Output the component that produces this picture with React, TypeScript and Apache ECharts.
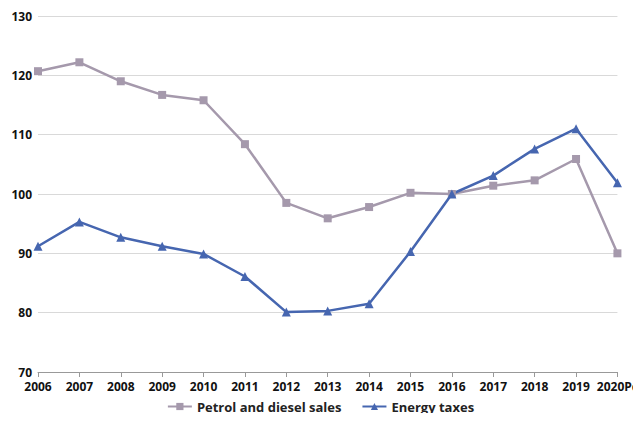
import React from 'react';
import * as echarts from 'echarts';

const years = ['2006', '2007', '2008', '2009', '2010', '2011', '2012', '2013', '2014', '2015', '2016', '2017', '2018', '2019', '2020Pc'];
const petrolSales = [120.7, 122.2, 119.0, 116.7, 115.8, 108.4, 98.5, 95.9, 97.8, 100.2, 100.0, 101.4, 102.3, 105.9, 90.0];
const energyTaxes = [91.2, 95.3, 92.7, 91.2, 89.9, 86.1, 80.1, 80.3, 81.5, 90.3, 100.0, 103.1, 107.6, 111.0, 101.9];

const font = '"Liberation Sans Narrow", "Open Sans", sans-serif';

export default function App() {
  const ref = React.useRef<HTMLDivElement>(null);

  React.useEffect(() => {
    if (!ref.current) return;
    const chart = echarts.init(ref.current, null, { renderer: 'svg' });
    chart.setOption({
      animation: false,
      grid: { left: 38, right: 16, top: 16, bottom: 49 },
      legend: {
        bottom: 3,
        left: 'center',
        itemWidth: 24,
        itemHeight: 9,
        itemGap: 20,
        textStyle: { fontFamily: font, fontSize: 13, fontWeight: 'bold', color: '#222' },
      },
      xAxis: {
        type: 'category',
        data: years,
        boundaryGap: false,
        axisLine: { lineStyle: { color: '#999' } },
        axisTick: { show: true, alignWithLabel: true, lineStyle: { color: '#999' } },
        axisLabel: { interval: 0, fontFamily: font, fontSize: 12, fontWeight: 'bold', color: '#111', margin: 8, showMaxLabel: true },
      },
      yAxis: {
        type: 'value',
        min: 70,
        max: 130,
        interval: 10,
        axisLine: { show: false },
        axisTick: { show: false },
        splitLine: { lineStyle: { color: '#d9d9d9' } },
        axisLabel: { fontFamily: font, fontSize: 12, fontWeight: 'bold', color: '#111', margin: 6 },
      },
      series: [
        {
          name: 'Petrol and diesel sales',
          type: 'line',
          data: petrolSales,
          symbol: 'rect',
          symbolSize: 8,
          itemStyle: { color: '#a599ac' },
          lineStyle: { color: '#a599ac', width: 2.5 },
        },
        {
          name: 'Energy taxes',
          type: 'line',
          data: energyTaxes,
          symbol: 'triangle',
          symbolSize: 9,
          itemStyle: { color: '#4666b0' },
          lineStyle: { color: '#4666b0', width: 2.5 },
        },
      ],
    });
    return () => chart.dispose();
  }, []);

  return <div ref={ref} style={{ width: 641, height: 421, margin: -8 }} />;
}
